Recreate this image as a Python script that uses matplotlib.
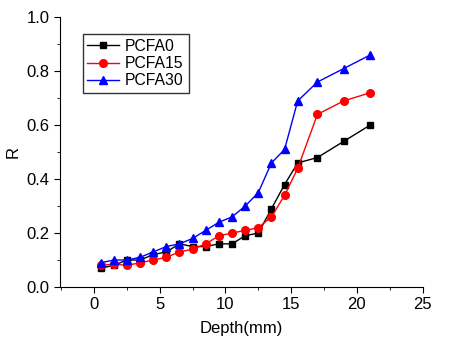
import matplotlib
matplotlib.use("Agg")
import matplotlib.pyplot as plt
from matplotlib.ticker import MultipleLocator

plt.rcParams["font.family"] = ["Liberation Sans", "DejaVu Sans"]

depth = [0.5, 1.5, 2.5, 3.5, 4.5, 5.5, 6.5, 7.5, 8.5, 9.5, 10.5, 11.5, 12.5,
         13.5, 14.5, 15.5, 17, 19, 21]
pcfa0 = [0.07, 0.08, 0.10, 0.10, 0.12, 0.13, 0.16, 0.15, 0.15, 0.16, 0.16, 0.19,
         0.20, 0.29, 0.38, 0.46, 0.48, 0.54, 0.60]
pcfa15 = [0.08, 0.085, 0.08, 0.09, 0.10, 0.11, 0.13, 0.14, 0.16, 0.19, 0.20, 0.21,
          0.22, 0.26, 0.34, 0.44, 0.64, 0.69, 0.72]
pcfa30 = [0.09, 0.10, 0.10, 0.11, 0.13, 0.15, 0.16, 0.18, 0.21, 0.24, 0.26, 0.30,
          0.35, 0.46, 0.51, 0.69, 0.76, 0.81, 0.86]

fig = plt.figure(figsize=(4.5, 3.46), dpi=100)
ax = fig.add_axes([0.133, 0.1705, 0.806, 0.7795])

ax.plot(depth, pcfa0, "s-", color="black", lw=1, ms=5, label="PCFA0")
ax.plot(depth, pcfa15, "o-", color="red", lw=1, ms=5.5, label="PCFA15")
ax.plot(depth, pcfa30, "^-", color="blue", lw=1, ms=6, label="PCFA30")

ax.set_xlim(-2.6, 25)
ax.set_ylim(0, 1.0)
ax.xaxis.set_major_locator(MultipleLocator(5))
ax.xaxis.set_minor_locator(MultipleLocator(2.5))
ax.yaxis.set_major_locator(MultipleLocator(0.2))
ax.yaxis.set_minor_locator(MultipleLocator(0.1))
ax.yaxis.set_major_formatter(plt.FormatStrFormatter("%.1f"))

for s in ["top", "right"]:
    ax.spines[s].set_visible(False)
ax.tick_params(which="major", direction="out", length=4, labelsize=12)
ax.tick_params(which="minor", direction="out", length=2.5)

ax.set_xlabel("Depth(mm)", fontsize=12, labelpad=6)
ax.set_ylabel("R", fontsize=12)

leg = ax.legend(loc="upper left", bbox_to_anchor=(0.063, 0.938), fontsize=11.3,
                frameon=True, fancybox=False, edgecolor="black",
                borderaxespad=0, borderpad=0.3, handlelength=2.0,
                handletextpad=0.4, labelspacing=0.15)
leg.get_frame().set_linewidth(1)

fig.savefig("out.png", dpi=100)
